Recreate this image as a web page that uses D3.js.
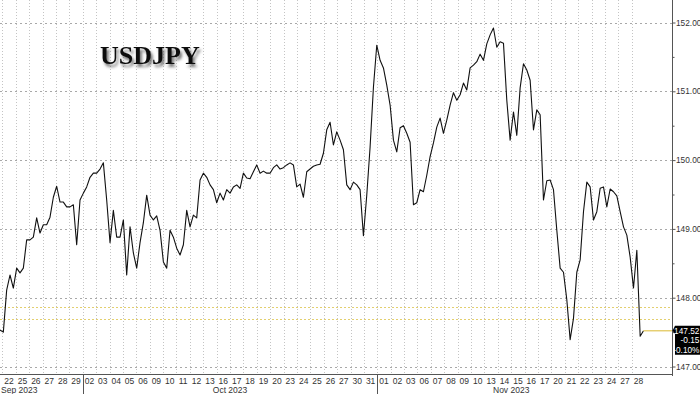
<!DOCTYPE html>
<html>
<head>
<meta charset="utf-8">
<script src="https://cdn.jsdelivr.net/npm/d3@7"></script>
<style>
  body { margin: 0; background: #fff; }
  svg { display: block; }
  .tick text { font-family: "Liberation Sans", Arial, sans-serif; }
</style>
</head>
<body>
<div id="chart"></div>
<script>
// trading days shown on the x axis, per month
const sepDays = ["22", "25", "26", "27", "28", "29"]
const octDays = ["02", "03", "04", "05", "06", "09", "10", "11", "12", "13", "16", "17", "18", "19", "20",
  "23", "24", "25", "26", "27", "30", "31"]
const novDays = ["01", "02", "03", "06", "07", "08", "09", "10", "13", "14", "15", "16", "17", "20", "21",
  "22", "23", "24", "27", "28"]
const monthNames = ["Sep 2023", "Oct 2023", "Nov 2023"]

// USDJPY, four readings per trading day, from the afternoon of Sep 21 to Nov 28
const usdjpy = [
  147.53, 147.50, 148.11, 148.33, 148.14, 148.43, 148.36, 148.43, 148.84, 148.84,
  148.88, 149.16, 148.94, 149.06, 149.06, 149.17, 149.46, 149.62, 149.39, 149.39,
  149.32, 149.32, 149.35, 148.77, 149.42, 149.52, 149.61, 149.75, 149.81, 149.81,
  149.87, 149.96, 149.42, 148.80, 149.27, 148.88, 148.88, 149.13, 148.33, 149.03,
  148.65, 148.43, 148.80, 149.09, 149.49, 149.20, 149.13, 149.19, 148.98, 148.52,
  148.43, 148.98, 148.88, 148.72, 148.62, 148.77, 149.27, 149.03, 149.20, 149.16,
  149.71, 149.81, 149.75, 149.64, 149.57, 149.38, 149.52, 149.42, 149.57, 149.52,
  149.61, 149.64, 149.59, 149.81, 149.74, 149.73, 149.83, 149.93, 149.81, 149.84,
  149.81, 149.81, 149.89, 149.93, 149.87, 149.89, 149.93, 149.96, 149.93, 149.61,
  149.65, 149.46, 149.83, 149.87, 149.91, 149.93, 149.94, 150.10, 150.44, 150.55,
  150.22, 150.41, 150.29, 150.15, 149.64, 149.57, 149.68, 149.64, 149.57, 148.90,
  149.49, 150.19, 151.06, 151.67, 151.45, 151.34, 151.09, 150.80, 150.29, 150.12,
  150.47, 150.50, 150.39, 150.26, 149.35, 149.38, 149.57, 149.54, 149.78, 150.05,
  150.25, 150.48, 150.61, 150.39, 150.58, 150.80, 150.98, 150.87, 150.95, 151.12,
  151.02, 151.34, 151.38, 151.43, 151.54, 151.45, 151.69, 151.82, 151.92, 151.64,
  151.72, 151.70, 150.87, 150.29, 150.70, 150.36, 151.05, 151.40, 151.31, 151.16,
  150.44, 150.73, 150.66, 149.42, 149.70, 149.71, 149.57, 148.98, 148.43, 148.37,
  147.97, 147.39, 147.70, 148.37, 148.55, 149.25, 149.68, 149.61, 149.13, 149.25,
  149.59, 149.61, 149.32, 149.58, 149.54, 149.48, 149.25, 149.03, 148.91, 148.59,
  148.14, 148.69, 147.44, 147.52
]

const yTicks = [147, 148, 149, 150, 151, 152]
const yMinorTicks = [147.5, 148.5, 149.5, 150.5, 151.5]
const refLevels = [147.86, 147.69]
const lastLabel = ["147.52", "-0.15", "-0.10%"]

const width = 700
const height = 394
const plotRight = 672
const axisY = 374
const labelFont = "'Liberation Sans', Arial, sans-serif"

const allDays = [...sepDays, ...octDays, ...novDays]
const monthStarts = [0, sepDays.length, sepDays.length + octDays.length, allDays.length]

const svg = d3.select("#chart")
  .append("svg")
  .attr("width", width)
  .attr("height", height)

const x = d3.scaleBand()
  .domain(d3.range(allDays.length))
  .range([2.4, 645.1])

const xs = d3.scaleLinear()
  .domain([0, usdjpy.length - 1])
  .range([0, 643.5])

const y = d3.scaleLinear()
  .domain([147, 152])
  .range([366.5, 22.5])

// vertical day grid
svg.append("g")
  .selectAll("line")
  .data(d3.range(allDays.length))
  .join("line")
    .attr("x1", d => Math.round(x(d)) + 0.5)
    .attr("x2", d => Math.round(x(d)) + 0.5)
    .attr("y1", 0)
    .attr("y2", axisY)
    .attr("stroke", "#c4c4c4")
    .attr("stroke-width", 1)
    .attr("stroke-dasharray", "1,2")

// horizontal value grid
svg.append("g")
  .selectAll("line")
  .data(yTicks)
  .join("line")
    .attr("x1", 0)
    .attr("x2", plotRight)
    .attr("y1", d => Math.round(y(d)) + 0.5)
    .attr("y2", d => Math.round(y(d)) + 0.5)
    .attr("stroke", "#a8a8a8")
    .attr("stroke-dasharray", "2,3")

// reference levels
svg.append("g")
  .selectAll("line")
  .data(refLevels)
  .join("line")
    .attr("x1", 0)
    .attr("x2", plotRight)
    .attr("y1", d => Math.round(y(d)) + 0.5)
    .attr("y2", d => Math.round(y(d)) + 0.5)
    .attr("stroke", "#e3cf6e")
    .attr("stroke-dasharray", "2,2")

// title with shadow
const defs = svg.append("defs")
defs.append("filter")
    .attr("id", "shadow")
    .attr("x", "-10%").attr("y", "-30%")
    .attr("width", "130%").attr("height", "170%")
  .append("feDropShadow")
    .attr("dx", 2)
    .attr("dy", 3)
    .attr("stdDeviation", 1.6)
    .attr("flood-color", "#444")
    .attr("flood-opacity", 0.75)

svg.append("text")
    .attr("x", 100)
    .attr("y", 64)
    .attr("font-family", "'Liberation Serif', 'Times New Roman', serif")
    .attr("font-weight", "bold")
    .attr("font-size", 26)
    .attr("fill", "#111")
    .attr("filter", "url(#shadow)")
    .text("USDJPY")

// price line
const line = d3.line()
  .x((d, i) => xs(i))
  .y(d => y(d))

svg.append("path")
    .datum(usdjpy)
    .attr("fill", "none")
    .attr("stroke", "#111")
    .attr("stroke-width", 1.1)
    .attr("stroke-linejoin", "round")
    .attr("d", line)

// last value guide
const lastVal = usdjpy[usdjpy.length - 1]
svg.append("line")
    .attr("x1", xs(usdjpy.length - 1))
    .attr("x2", plotRight)
    .attr("y1", y(lastVal))
    .attr("y2", y(lastVal))
    .attr("stroke", "#e6cf72")
    .attr("stroke-width", 1.5)

// right axis
svg.append("line")
    .attr("x1", plotRight + 0.5).attr("x2", plotRight + 0.5)
    .attr("y1", 0).attr("y2", axisY + 2)
    .attr("stroke", "#555")

const yAxis = svg.append("g")
    .attr("transform", `translate(${plotRight + 0.5},0)`)
    .call(d3.axisRight(y).tickValues(yTicks).tickFormat(d3.format(".2f")).tickSize(3).tickPadding(0.5))
yAxis.select(".domain").remove()
yAxis.selectAll(".tick line").attr("stroke", "#555")
yAxis.selectAll(".tick text").attr("font-size", 8.3).attr("fill", "#333")

const yMinor = svg.append("g")
    .attr("transform", `translate(${plotRight + 0.5},0)`)
    .call(d3.axisRight(y).tickValues(yMinorTicks).tickFormat("").tickSize(2))
yMinor.select(".domain").remove()
yMinor.selectAll(".tick line").attr("stroke", "#555")

// last value box
const boxTop = y(lastVal) - 5
svg.append("path")
    .attr("d", `M${plotRight + 0.5},${y(lastVal)} L${plotRight + 3},${boxTop} H700 V${boxTop + 29} H${plotRight + 3} V${y(lastVal) + 3} Z`)
    .attr("fill", "#000")

svg.append("g")
  .selectAll("text")
  .data(lastLabel)
  .join("text")
    .attr("x", 699.5)
    .attr("y", (d, i) => boxTop + 8 + i * 9.6)
    .attr("text-anchor", "end")
    .attr("font-family", labelFont)
    .attr("font-size", 8.3)
    .attr("fill", "#fff")
    .text(d => d)

// bottom axis
svg.append("line")
    .attr("x1", 0).attr("x2", plotRight + 1)
    .attr("y1", axisY + 0.5).attr("y2", axisY + 0.5)
    .attr("stroke", "#555")

const xAxis = svg.append("g")
    .attr("transform", `translate(0,${axisY})`)
    .call(d3.axisBottom(x).tickSize(0).tickPadding(3.5).tickFormat(i => allDays[i]))
xAxis.select(".domain").remove()
xAxis.selectAll(".tick text").attr("font-size", 8.5).attr("fill", "#333")

// month separators and labels
svg.append("g")
  .selectAll("line")
  .data(monthStarts.slice(1, -1))
  .join("line")
    .attr("x1", d => Math.round(x(d)) + 0.5)
    .attr("x2", d => Math.round(x(d)) + 0.5)
    .attr("y1", axisY)
    .attr("y2", height)
    .attr("stroke", "#555")

svg.append("g")
  .selectAll("text")
  .data(monthNames)
  .join("text")
    .attr("x", (d, i) => i === 0 ? 1 : (x(monthStarts[i]) + x(monthStarts[i + 1] - 1) + x.bandwidth()) / 2)
    .attr("y", 393)
    .attr("text-anchor", (d, i) => i === 0 ? "start" : "middle")
    .attr("font-family", labelFont)
    .attr("font-size", 8.5)
    .attr("fill", "#333")
    .text(d => d)
</script>
</body>
</html>
